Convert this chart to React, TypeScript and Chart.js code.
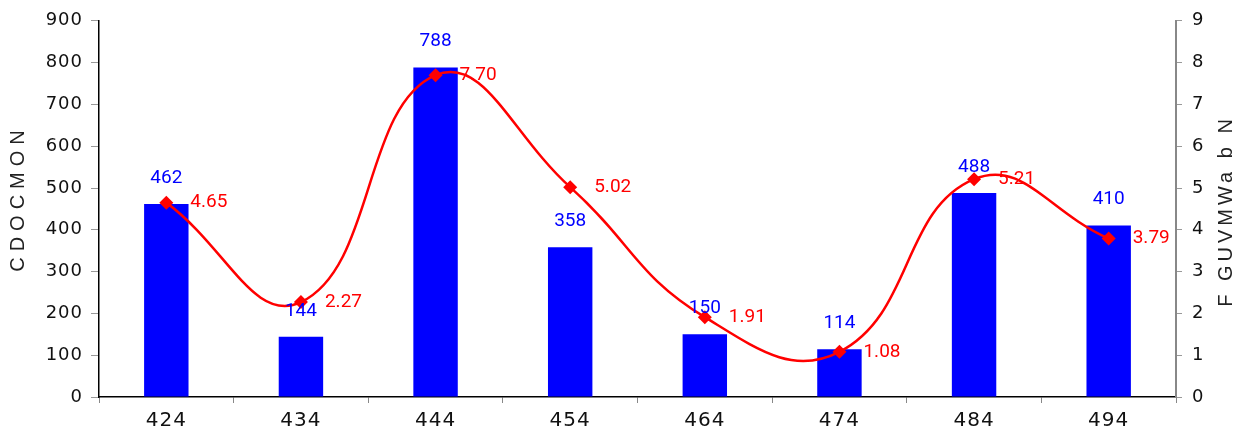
import React, { useEffect, useRef } from "react";
import { Chart, registerables } from "chart.js";

Chart.register(...registerables);

const categories = ["424", "434", "444", "454", "464", "474", "484", "494"];
const barValues = [462, 144, 788, 358, 150, 114, 488, 410];
const lineValues = [4.65, 2.27, 7.7, 5.02, 1.91, 1.08, 5.21, 3.79];
const leftTitle = "CDOCMON";
const rightTitle = "F GUVMWa b N";

const spacingPlugin = {
  id: "spacing",
  beforeDraw(chart: any) {
    (chart.ctx as any).letterSpacing = "1px";
  },
};

const labelPlugin = {
  id: "labels",
  afterDatasetsDraw(chart: any) {
    const ctx = chart.ctx;
    ctx.save();
    (ctx as any).letterSpacing = "0px";
    ctx.font = "19px Roboto";
    ctx.textBaseline = "middle";
    const barMeta = chart.getDatasetMeta(0);
    barMeta.data.forEach((el: any, i: number) => {
      ctx.fillStyle = "#0000FF";
      ctx.textAlign = "center";
      ctx.fillText(String(barValues[i]), el.x, el.y - 26);
    });
    const lineMeta = chart.getDatasetMeta(1);
    lineMeta.data.forEach((el: any, i: number) => {
      ctx.fillStyle = "#FF0000";
      ctx.textAlign = "left";
      ctx.fillText(lineValues[i].toFixed(2), el.x + 24, el.y);
    });
    ctx.restore();
  },
  afterDraw(chart: any) {
    const ctx = chart.ctx;
    ctx.save();
    ctx.fillStyle = "#222";
    ctx.font = "20px 'Liberation Sans'";
    ctx.textAlign = "center";
    ctx.textBaseline = "middle";
    (ctx as any).letterSpacing = "6px";
    ctx.save();
    ctx.translate(18, 201);
    ctx.rotate(-Math.PI / 2);
    ctx.fillText(leftTitle, 3, 0);
    ctx.restore();
    (ctx as any).letterSpacing = "4px";
    ctx.save();
    ctx.translate(1226, 213);
    ctx.rotate(-Math.PI / 2);
    ctx.fillText(rightTitle, 2, 0);
    ctx.restore();
    (ctx as any).letterSpacing = "0px";
    ctx.restore();
  },
};

export default function App() {
  const ref = useRef<HTMLCanvasElement>(null);
  useEffect(() => {
    if (!ref.current) return;
    const tickFont = { family: "'DejaVu Sans'", size: 18 };
    const chart = new Chart(ref.current, {
      type: "bar",
      data: {
        labels: categories,
        datasets: [
          {
            type: "bar",
            data: barValues,
            backgroundColor: "#0000FF",
            borderWidth: 0,
            barPercentage: 0.33,
            categoryPercentage: 1,
            yAxisID: "y",
            order: 2,
          },
          {
            type: "line",
            data: lineValues,
            borderColor: "#FF0000",
            backgroundColor: "#FF0000",
            borderWidth: 2.5,
            tension: 0.45,
            pointStyle: "rectRot",
            pointRadius: 7,
            pointBorderWidth: 0,
            pointBackgroundColor: "#FF0000",
            yAxisID: "y1",
            order: 1,
          },
        ],
      },
      options: {
        animation: false,
        responsive: true,
        maintainAspectRatio: false,
        layout: { padding: { top: 17, left: 0, right: 0, bottom: 0 } },
        plugins: { legend: { display: false }, tooltip: { enabled: false } },
        scales: {
          x: {
            grid: {
              display: true,
              drawOnChartArea: false,
              drawTicks: true,
              tickLength: 6,
              color: "#888",
              offset: true,
            },
            border: { color: "#000", width: 1.5 },
            ticks: { color: "#111", font: { family: "'DejaVu Sans'", size: 20 }, padding: 6 },
            afterFit: (s: any) => {
              s.height = 41;
            },
          },
          y: {
            position: "left",
            min: 0,
            max: 900,
            ticks: { stepSize: 100, color: "#111", font: tickFont, padding: 8 },
            grid: { drawOnChartArea: false, tickLength: 8, color: "#999" },
            border: { color: "#000", width: 1.5 },
            afterFit: (s: any) => {
              s.width = 99;
            },
          },
          y1: {
            position: "right",
            min: 0,
            max: 9,
            ticks: { stepSize: 1, color: "#111", font: tickFont, padding: 10 },
            grid: { drawOnChartArea: false, tickLength: 6, color: "#999" },
            border: { color: "#888", width: 2 },
            afterFit: (s: any) => {
              s.width = 69;
            },
          },
        },
      },
      plugins: [spacingPlugin, labelPlugin],
    } as any);
    return () => chart.destroy();
  }, []);
  return (
    <div style={{ position: "absolute", left: 0, top: 0, width: 1245, height: 438, background: "#fff" }}>
      <canvas ref={ref} />
    </div>
  );
}
